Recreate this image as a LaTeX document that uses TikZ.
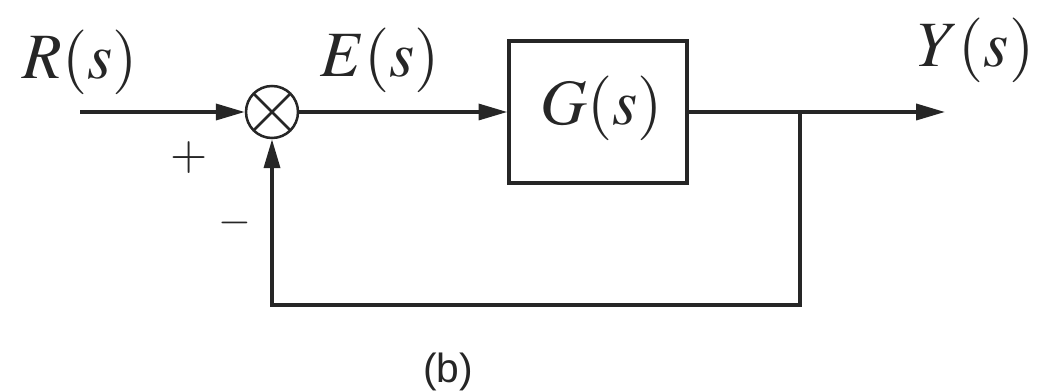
\documentclass[tikz,border=0pt]{standalone}
\usepackage{mathptmx}
\usepackage[no-math]{fontspec}
\setsansfont{Liberation Sans}
\usepackage{tikz}
\usetikzlibrary{positioning,arrows.meta,calc}
\colorlet{colTrazo}{black!85}

\begin{document}
\begin{tikzpicture}[
        sig/.style={font=\fontsize{46}{52}\selectfont, text=colTrazo, inner sep=0pt},
        sgn/.style={font=\fontsize{34}{40}\selectfont, text=colTrazo, inner sep=0pt},
        block/.style={draw=colTrazo, line width=2.4pt, minimum width=4.45cm, minimum height=3.55cm, inner sep=0pt},
        sumj/.style={draw=colTrazo, circle, line width=1.8pt, minimum size=1.3cm, inner sep=0pt,
            path picture={\draw[line width=1.8pt, colTrazo] (path picture bounding box.north west) -- (path picture bounding box.south east)
                (path picture bounding box.north east) -- (path picture bounding box.south west);}},
        arr/.style={-{Triangle[length=0.72cm, width=0.4cm]}, line width=2.4pt, draw=colTrazo}
    ]
        \useasboundingbox (0,0) rectangle (26.025,9.75);

        % --- Lazo cerrado ---
        \coordinate (entrada) at (2.0, 6.95);
        \node[sumj] (suma) at (6.8, 6.95) {};
        \node[block] (planta) at (14.95, 6.95) {};
        \node[sig] (Gs) at (15.05, 7.05) {$G(s)$};
        \coordinate (rama) at (20.0, 6.95);
        \coordinate (salida) at (23.625, 6.95);
        \coordinate (esquina) at (20.0, 2.125);

        % Conexiones
        \draw[arr] (entrada) -- (suma.west);
        \draw[arr] (suma.east) -- (planta.west);
        \draw[arr] (planta.east) -- (salida);
        \draw[arr] (rama) -- (esquina) -| (suma.south);

        % Etiquetas
        \node[sig] (Rs) at (2.0, 8.2) {$R(s)$};
        \node[sig] (Es) at (9.5, 8.25) {$E(s)$};
        \node[sig] (Ys) at (24.4, 8.5) {$Y(s)$};
        \node[sgn] (mas) at (4.72, 5.82) {$+$};
        \node[sgn] (menos) at (5.875, 4.175) {\fontsize{30}{36}\selectfont$-$};
        \node[font=\sffamily\fontsize{29}{34}\selectfont, text=colTrazo, inner sep=0pt] (etiq) at (11.2, 0.45) {(b)};
    \end{tikzpicture}
\end{document}
